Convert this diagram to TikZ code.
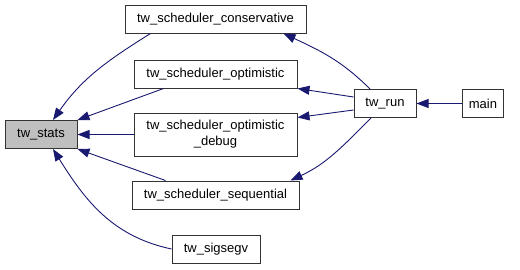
\documentclass[tikz,border=0pt]{standalone}
\usepackage{fontspec}
\setmainfont{Liberation Sans}
\usetikzlibrary{arrows.meta}

\definecolor{edgeblue}{HTML}{191970}
\definecolor{boxgray}{HTML}{BFBFBF}

\tikzset{
  fn/.style={draw=black!80, line width=1pt, fill=white, minimum height=28pt,
    inner xsep=6pt, inner ysep=2pt, font=\fontsize{13}{16}\selectfont, align=center},
  callee/.style={fn, fill=boxgray},
  call/.style={draw=edgeblue, line width=0.9pt,
    -{Triangle[length=12pt,width=9pt]}},
}

\begin{document}
\begin{tikzpicture}[x=1pt,y=1pt]
  \useasboundingbox (0,0) rectangle (520,269);

  \node[callee, minimum width=72pt] (stats) at (41,134.5) {tw\_stats};

  \node[fn, minimum width=181pt] (cons) at (215.5,250)   {tw\_scheduler\_conservative};
  \node[fn, minimum width=163pt] (opt)  at (215.5,195)   {tw\_scheduler\_optimistic};
  \node[fn, minimum width=163pt, minimum height=43pt] (dbg) at (215.5,134.5)
    {tw\_scheduler\_optimistic\\\_debug};
  \node[fn, minimum width=167pt] (seq)  at (215.5,74)    {tw\_scheduler\_sequential};
  \node[fn, minimum width=88pt]  (sig)  at (216,20)      {tw\_sigsegv};

  \node[fn, minimum width=62pt] (run)  at (385,165.5) {tw\_run};
  \node[fn, minimum width=40pt] (main) at (483,165.5) {main};

  % callers of tw_stats
  \draw[call] ([xshift=-65pt]cons.south) to[out=212,in=55] ([xshift=12pt]stats.north);
  \draw[call] ([xshift=-52pt]opt.south) -- (stats.north east);
  \draw[call] (dbg.west) -- (stats.east);
  \draw[call] ([xshift=-50pt]seq.north) -- (stats.south east);
  \draw[call] (sig.west) to[out=168,in=-58] ([xshift=12pt]stats.south);

  % tw_run calls the schedulers
  \draw[call] ([xshift=-15pt]run.north) to[out=135,in=-25] ([xshift=68pt]cons.south);
  \draw[call] ([yshift=6.5pt]run.west) -- (opt.south east);
  \draw[call] ([yshift=-6.5pt]run.west) -- ([yshift=17pt]dbg.east);
  \draw[call] ([xshift=-14pt]run.south) to[out=-135,in=25] ([xshift=75pt]seq.north);

  \draw[call] (main) -- (run);
\end{tikzpicture}
\end{document}
